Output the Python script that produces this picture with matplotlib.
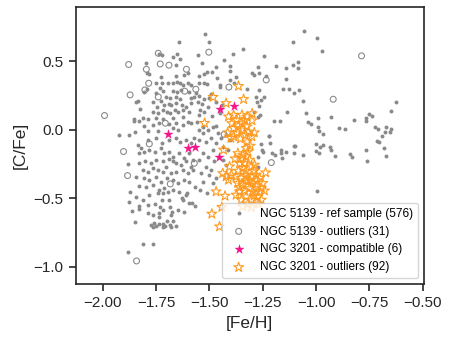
import matplotlib
matplotlib.use("Agg")
import matplotlib.pyplot as plt
import numpy as np

plt.rcParams['font.family'] = ['Liberation Sans', 'DejaVu Sans']

# NGC 5139 - reference sample ([Fe/H], [C/Fe])
ref_sample = np.array([
    (-1.644, 0.643), (-1.735, 0.556), (-1.723, 0.546), (-1.673, 0.536), (-1.652, 0.556), (-1.638, 0.521),
    (-1.798, 0.490), (-1.658, 0.473), (-1.793, 0.414), (-1.785, 0.412), (-1.727, 0.387), (-1.657, 0.395),
    (-1.621, 0.402), (-1.602, 0.414), (-1.751, 0.341), (-1.724, 0.341), (-1.695, 0.341), (-1.673, 0.341),
    (-1.652, 0.353), (-1.637, 0.341), (-1.622, 0.329), (-1.599, 0.341), (-1.586, 0.329), (-1.806, 0.280),
    (-1.795, 0.302), (-1.734, 0.305), (-1.716, 0.283), (-1.751, 0.268), (-1.673, 0.287), (-1.652, 0.280),
    (-1.632, 0.292), (-1.594, 0.280), (-1.704, 0.244), (-1.685, 0.231), (-1.657, 0.244), (-1.637, 0.227),
    (-1.586, 0.231), (-1.571, 0.244), (-1.836, 0.212), (-1.845, 0.202), (-1.767, 0.207), (-1.727, 0.214),
    (-1.748, 0.170), (-1.712, 0.183), (-1.688, 0.190), (-1.680, 0.183), (-1.657, 0.195), (-1.629, 0.183),
    (-1.610, 0.166), (-1.586, 0.195), (-1.825, 0.151), (-1.767, 0.134), (-1.743, 0.122), (-1.720, 0.146),
    (-1.701, 0.134), (-1.685, 0.122), (-1.662, 0.146), (-1.649, 0.134), (-1.622, 0.146), (-1.594, 0.134),
    (-1.853, 0.078), (-1.814, 0.085), (-1.790, 0.078), (-1.751, 0.085), (-1.720, 0.078), (-1.673, 0.085),
    (-1.626, 0.093),
    (-1.521, 0.702), (-1.502, 0.641), (-1.343, 0.592), (-1.389, 0.556), (-1.555, 0.548),
    (-1.055, 0.726), (-1.110, 0.645), (-0.997, 0.670), (-0.974, 0.580), (-1.246, 0.543), (-1.434, 0.509),
    (-1.469, 0.463), (-1.406, 0.467), (-1.536, 0.487), (-1.188, 0.470), (-1.141, 0.455), (-1.110, 0.472),
    (-1.087, 0.499), (-1.083, 0.450), (-1.273, 0.463), (-1.301, 0.414), (-1.289, 0.399), (-1.267, 0.419),
    (-1.234, 0.397), (-1.406, 0.428), (-1.510, 0.426), (-1.528, 0.409), (-1.489, 0.426), (-1.466, 0.377),
    (-1.403, 0.365), (-1.375, 0.385), (-1.141, 0.372), (-1.387, 0.341), (-1.513, 0.333), (-1.450, 0.311),
    (-1.325, 0.297), (-1.268, 0.292), (-1.157, 0.297), (-1.126, 0.302), (-1.082, 0.292), (-1.105, 0.268),
    (-1.246, 0.243), (-1.259, 0.219), (-1.278, 0.207), (-1.268, 0.175), (-1.293, 0.134), (-1.137, 0.134),
    (-1.171, 0.068), (-1.199, 0.068), (-1.274, 0.097), (-1.101, -0.115), (-1.257, -0.103), (-1.223, -0.044),
    (-1.547, 0.397), (-1.547, 0.346), (-1.524, 0.341), (-1.453, 0.329), (-1.284, 0.244), (-1.563, 0.268),
    (-1.547, 0.251), (-1.524, 0.224), (-1.493, 0.261), (-1.500, 0.231), (-1.554, 0.207), (-1.535, 0.190),
    (-1.508, 0.170), (-1.469, 0.207), (-1.441, 0.183), (-1.544, 0.146), (-1.524, 0.134), (-1.550, 0.107),
    (-1.262, 0.110), (-1.470, 0.030), (-1.450, 0.120), (-1.490, 0.100), (-1.560, 0.060), (-1.530, 0.020),
    (-1.063, 0.212), (-0.624, 0.202), (-0.651, 0.141), (-1.046, 0.124), (-0.993, 0.087), (-0.928, 0.092),
    (-1.036, 0.060), (-1.025, 0.043), (-0.993, 0.024), (-0.985, -0.010), (-0.969, -0.030), (-0.892, 0.012),
    (-0.864, 0.007), (-0.822, 0.075), (-0.768, 0.068), (-0.764, 0.085), (-0.753, 0.114), (-0.739, 0.099),
    (-0.723, 0.019), (-0.709, 0.009), (-0.674, 0.019), (-0.651, 0.007), (-0.678, -0.013), (-0.654, -0.013),
    (-0.689, -0.047), (-0.715, -0.078), (-0.703, -0.086), (-0.684, -0.130), (-0.673, -0.191), (-0.764, -0.149),
    (-0.762, -0.230), (-1.002, -0.103), (-0.983, -0.122), (-0.969, -0.113), (-1.002, -0.152), (-0.986, -0.166),
    (-0.936, -0.127), (-0.930, -0.144), (-0.841, -0.173), (-0.834, -0.198), (-0.913, -0.191), (-1.063, -0.186),
    (-0.996, -0.444), (-1.105, -0.171), (-1.160, -0.207), (-1.207, -0.171), (-1.254, -0.146), (-1.215, -0.098),
    (-1.853, 0.066), (-1.829, 0.068), (-1.806, 0.029), (-1.767, 0.037), (-1.735, 0.049), (-1.688, 0.044),
    (-1.657, 0.054), (-1.626, 0.037), (-1.602, 0.061), (-1.586, 0.049), (-1.673, 0.012), (-1.649, 0.000),
    (-1.743, -0.005), (-1.790, -0.005), (-1.923, -0.034), (-1.879, -0.034), (-1.848, -0.012), (-1.790, -0.073),
    (-1.751, -0.061), (-1.723, -0.093), (-1.688, -0.073), (-1.657, -0.061), (-1.638, -0.085), (-1.610, -0.073),
    (-1.586, -0.098), (-1.571, -0.061), (-1.834, -0.107), (-1.821, -0.134), (-1.832, -0.171), (-1.806, -0.158),
    (-1.782, -0.146), (-1.754, -0.158), (-1.727, -0.134), (-1.712, -0.171), (-1.688, -0.158), (-1.673, -0.195),
    (-1.641, -0.171), (-1.618, -0.207), (-1.594, -0.171), (-1.579, -0.219), (-1.884, -0.251), (-1.829, -0.244),
    (-1.801, -0.231), (-1.774, -0.244), (-1.751, -0.219), (-1.720, -0.231), (-1.691, -0.215), (-1.673, -0.231),
    (-1.657, -0.244), (-1.633, -0.256), (-1.610, -0.231), (-1.586, -0.268), (-1.814, -0.292), (-1.790, -0.305),
    (-1.767, -0.280), (-1.743, -0.292), (-1.720, -0.305), (-1.704, -0.268), (-1.680, -0.317), (-1.657, -0.305),
    (-1.626, -0.292), (-1.602, -0.317), (-1.579, -0.292), (-1.845, -0.341), (-1.806, -0.353), (-1.782, -0.366),
    (-1.751, -0.341), (-1.727, -0.378), (-1.701, -0.353), (-1.673, -0.366), (-1.649, -0.390), (-1.618, -0.366),
    (-1.594, -0.378), (-1.832, -0.409), (-1.798, -0.414), (-1.767, -0.402), (-1.735, -0.439), (-1.712, -0.427),
    (-1.696, -0.451), (-1.743, -0.463), (-1.720, -0.463), (-1.673, -0.439), (-1.641, -0.451), (-1.610, -0.475),
    (-1.872, -0.451), (-1.845, -0.487), (-1.814, -0.512), (-1.785, -0.475), (-1.723, -0.512), (-1.688, -0.512),
    (-1.626, -0.512), (-1.594, -0.536),
    (-1.876, -0.527), (-1.832, -0.556), (-1.832, -0.575), (-1.861, -0.595), (-1.789, -0.548), (-1.757, -0.541),
    (-1.732, -0.561), (-1.720, -0.585), (-1.735, -0.605), (-1.763, -0.619), (-1.789, -0.605), (-1.684, -0.566),
    (-1.677, -0.597), (-1.680, -0.619), (-1.646, -0.585), (-1.618, -0.600), (-1.738, -0.639), (-1.848, -0.673),
    (-1.670, -0.663), (-1.773, -0.695), (-1.759, -0.683), (-1.751, -0.702), (-1.763, -0.707), (-1.738, -0.690),
    (-1.720, -0.687), (-1.707, -0.702), (-1.701, -0.666), (-1.684, -0.695), (-1.657, -0.702), (-1.680, -0.707),
    (-1.716, -0.707), (-1.811, -0.831), (-1.763, -0.831), (-1.881, -0.890),
    (-1.567, -0.414), (-1.544, -0.439), (-1.607, -0.463), (-1.513, -0.463), (-1.583, -0.536), (-1.630, -0.500),
    (-1.567, -0.560),
    (-1.550, 0.000), (-1.532, -0.024), (-1.508, 0.000), (-1.485, 0.024), (-1.461, -0.024), (-1.492, -0.061),
    (-1.469, -0.098), (-1.516, -0.085), (-1.547, -0.073), (-1.445, -0.061), (-1.422, -0.037), (-1.406, -0.073),
    (-1.438, -0.122), (-1.414, -0.146), (-1.485, -0.146), (-1.532, -0.171), (-1.547, -0.219), (-1.508, -0.195),
    (-1.477, -0.231), (-1.438, -0.219), (-1.422, -0.256), (-1.516, -0.268), (-1.492, -0.293), (-1.539, -0.317),
    (-1.500, -0.329), (-1.469, -0.353), (-1.532, -0.378), (-1.485, -0.390), (-1.221, -0.044), (-1.105, -0.117),
    (-1.193, -0.183), (-1.163, -0.146), (-1.163, -0.171), (-1.140, -0.158), (-1.250, -0.158), (-1.273, -0.195),
    (-1.273, -0.268),
])

# NGC 5139 - outliers
ref_outliers = np.array([
    (-1.740, 0.560), (-1.879, 0.478), (-1.731, 0.482), (-1.690, 0.473), (-1.608, 0.443), (-1.796, 0.443),
    (-1.785, 0.341), (-1.803, 0.292), (-1.616, 0.283), (-1.872, 0.256), (-1.740, 0.241), (-1.992, 0.105),
    (-1.503, 0.568), (-0.787, 0.541), (-1.234, 0.365), (-1.409, 0.313), (-0.920, 0.224), (-1.564, 0.297),
    (-1.903, -0.158), (-1.884, -0.334), (-1.782, -0.102), (-1.684, -0.395), (-1.707, 0.049), (-1.571, -0.244),
    (-1.431, -0.032), (-1.210, -0.239), (-1.842, -0.958),
])

# NGC 3201 - compatible
compatible = np.array([
    (-1.696, -0.029), (-1.450, 0.151), (-1.384, 0.175), (-1.599, -0.132), (-1.566, -0.127), (-1.456, -0.195),
])

# NGC 3201 - outliers
outliers = np.array([
    (-1.364, 0.320), (-1.483, 0.240), (-1.340, 0.224), (-1.422, 0.195), (-1.523, 0.050), (-1.411, 0.097),
    (-1.387, 0.109), (-1.348, 0.109), (-1.324, 0.097), (-1.372, 0.073), (-1.301, 0.068), (-1.395, 0.048),
    (-1.348, 0.048), (-1.324, 0.024), (-1.387, 0.012), (-1.348, 0.000), (-1.317, -0.013), (-1.387, -0.049),
    (-1.332, -0.037), (-1.301, -0.049), (-1.324, -0.086), (-1.309, -0.117), (-1.365, 0.030), (-1.336, 0.070),
    (-1.355, -0.065), (-1.372, -0.020), (-1.328, -0.134), (-1.367, -0.171), (-1.344, -0.183), (-1.351, -0.207),
    (-1.328, -0.195), (-1.312, -0.219), (-1.359, -0.244), (-1.336, -0.244), (-1.304, -0.268), (-1.344, -0.280),
    (-1.289, -0.256), (-1.406, -0.268), (-1.434, -0.146), (-1.438, -0.317), (-1.422, -0.341), (-1.398, -0.329),
    (-1.237, -0.312), (-1.375, -0.341), (-1.351, -0.353), (-1.328, -0.329), (-1.304, -0.341), (-1.281, -0.329),
    (-1.265, -0.353), (-1.320, -0.378), (-1.297, -0.390), (-1.344, -0.402), (-1.367, -0.390), (-1.281, -0.414),
    (-1.257, -0.427), (-1.312, -0.427), (-1.336, -0.444), (-1.359, -0.451), (-1.297, -0.451), (-1.265, -0.451),
    (-1.242, -0.444), (-1.328, -0.488), (-1.304, -0.512), (-1.257, -0.512), (-1.351, -0.512), (-1.375, -0.475),
    (-1.469, -0.451), (-1.427, -0.483), (-1.442, -0.565), (-1.304, -0.565), (-1.489, -0.614), (-1.453, -0.707),
    (-1.411, -0.366), (-1.380, -0.210), (-1.320, -0.160), (-1.290, -0.300), (-1.365, -0.300), (-1.330, -0.300),
    (-1.310, -0.370), (-1.280, -0.370), (-1.250, -0.390), (-1.330, -0.370), (-1.360, -0.420), (-1.290, -0.480),
    (-1.320, -0.540), (-1.275, -0.490), (-1.345, -0.560), (-1.270, -0.540), (-1.400, -0.060), (-1.290, -0.020),
    (-1.300, 0.120), (-1.415, -0.020),
])

labels = [
    f"NGC 5139 - ref sample ({576})",
    f"NGC 5139 - outliers ({31})",
    f"NGC 3201 - compatible ({6})",
    f"NGC 3201 - outliers ({92})",
]

fig, ax = plt.subplots(figsize=(4.55, 3.42), dpi=100)
fig.subplots_adjust(left=0.166, right=0.932, bottom=0.169, top=0.979)

ax.scatter(ref_sample[:, 0], ref_sample[:, 1], s=8, color="#8a8a8a", lw=0, label=labels[0])
ax.scatter(ref_outliers[:, 0], ref_outliers[:, 1], s=18, facecolors="none",
           edgecolors="#8a8a8a", lw=0.8, label=labels[1])
ax.scatter(compatible[:, 0], compatible[:, 1], s=60, marker="*", color="#f5168c",
           lw=0, label=labels[2])
ax.scatter(outliers[:, 0], outliers[:, 1], s=55, marker="*", facecolors="none",
           edgecolors="#ff9a1f", lw=0.8, label=labels[3])

ax.set_xlim(-2.128, -0.494)
ax.set_ylim(-1.128, 0.897)
ax.set_xticks([-2.0, -1.75, -1.5, -1.25, -1.0, -0.75, -0.5])
ax.set_yticks([-1.0, -0.5, 0.0, 0.5])
ax.set_xlabel("[Fe/H]", fontsize=12.5, color="0.15")
ax.set_ylabel("[C/Fe]", fontsize=12.5, color="0.15")
ax.tick_params(labelsize=11, colors="0.15", length=5, width=1.2)
for sp in ax.spines.values():
    sp.set_color("0.15")
    sp.set_linewidth(1.2)

ax.legend(loc="lower right", fontsize=8.6, frameon=True)

fig.savefig("out.png", dpi=100)
